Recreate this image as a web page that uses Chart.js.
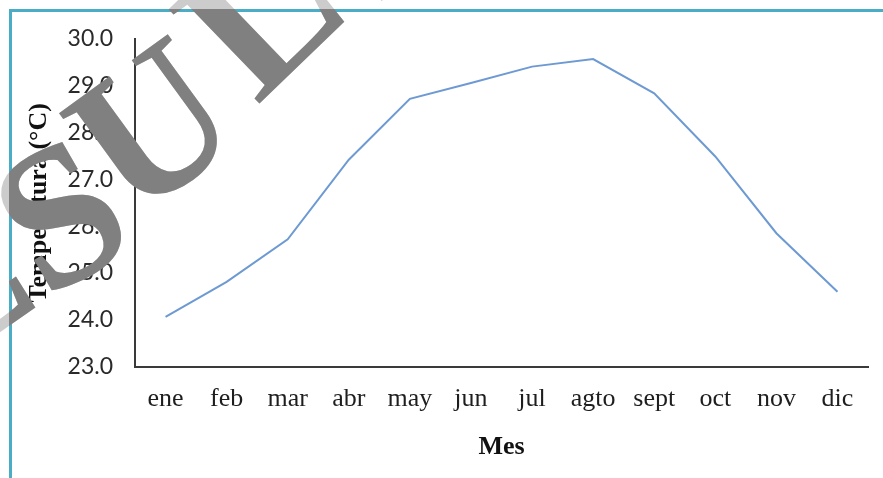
<!DOCTYPE html>
<html>
<head>
<meta charset="utf-8">
<script src="https://cdn.jsdelivr.net/npm/chart.js@4/dist/chart.umd.min.js"></script>
<style>
html, body { margin: 0; padding: 0; background: #fff; }
#marco { position: absolute; left: 9px; top: 9px; width: 874px; height: 469px; box-sizing: border-box;
         border-left: 3px solid #4bacc6; border-top: 3px solid #4bacc6; }
#wrap { position: absolute; left: 0; top: 0; width: 883px; height: 478px; }
</style>
</head>
<body>
<div id="marco"></div>
<div id="wrap"><canvas id="grafico"></canvas></div>
<script>
// datos
var meses = ['ene', 'feb', 'mar', 'abr', 'may', 'jun', 'jul', 'agto', 'sept', 'oct', 'nov', 'dic'];
var temperatura = [24.06, 24.81, 25.72, 27.42, 28.72, 29.06, 29.41, 29.57, 28.84, 27.49, 25.85, 24.60];
var yMin = 23, yMax = 30, yPaso = 1;

// marca de agua (letras sueltas en arco) encima del grafico
var letrasMarca = [
  ['E', -64, 377, -35],
  ['S', 45, 300, -30],
  ['U', 132, 222, -36],
  ['L', 257, 106, -44],
  ['T', 360, 22, -44]
];
var marcaAgua = {
  id: 'marcaAgua',
  afterDraw: function (chart) {
    var ctx = chart.ctx;
    function texto(color) {
      letrasMarca.forEach(function (l) {
        ctx.save();
        ctx.translate(l[1], l[2]);
        ctx.rotate(l[3] * Math.PI / 180);
        ctx.font = 'bold 200px "Liberation Serif"';
        ctx.textBaseline = 'alphabetic';
        ctx.fillStyle = color;
        ctx.fillText(l[0], 0, 0);
        ctx.restore();
      });
    }
    texto('rgba(128,128,128,0.4)');
    ctx.save();
    ctx.beginPath();
    ctx.rect(9, 9, 874, 469);
    ctx.clip();
    texto('#808080');
    ctx.restore();
  }
};

var ctx = document.getElementById('grafico');

var config = {
  type: 'line',
  data: {
    labels: meses,
    datasets: [{
      label: 'Temperatura',
      data: temperatura,
      borderColor: '#6d9ad2',
      borderWidth: 2,
      pointRadius: 0,
      tension: 0,
      fill: false
    }]
  },
  options: {
    responsive: true,
    maintainAspectRatio: false,
    animation: false,
    layout: { padding: { left: 0, top: 39, right: 15, bottom: 15 } },
    plugins: {
      legend: { display: false },
      tooltip: { enabled: false }
    },
    scales: {
      x: {
        offset: true,
        grid: { display: false, drawTicks: false },
        border: { display: true, color: '#3a3a3a', width: 2 },
        ticks: {
          font: { family: 'Liberation Serif', size: 26 },
          color: '#1e1e1e',
          padding: 17,
          maxRotation: 0,
          autoSkip: false
        },
        title: {
          display: true,
          text: 'Mes',
          font: { family: 'Liberation Serif', size: 26, weight: 'bold' },
          color: '#111',
          padding: 0
        }
      },
      y: {
        min: yMin,
        max: yMax,
        grid: { display: false, drawTicks: false },
        border: { display: true, color: '#3a3a3a', width: 2 },
        ticks: {
          stepSize: yPaso,
          callback: function (v) { return v.toFixed(1); },
          font: { family: 'Lato', size: 23 },
          color: '#2a2a2a',
          padding: 22
        },
        title: {
          display: true,
          text: 'Temperatura (°C)',
          font: { family: 'Liberation Serif', size: 26, weight: 'bold' },
          color: '#111',
          padding: { top: 24, bottom: 0 }
        },
        afterFit: function (s) { s.width = 135; }
      }
    }
  },
  plugins: [marcaAgua]
};

var grafico = new Chart(ctx, config);
</script>
</body>
</html>
